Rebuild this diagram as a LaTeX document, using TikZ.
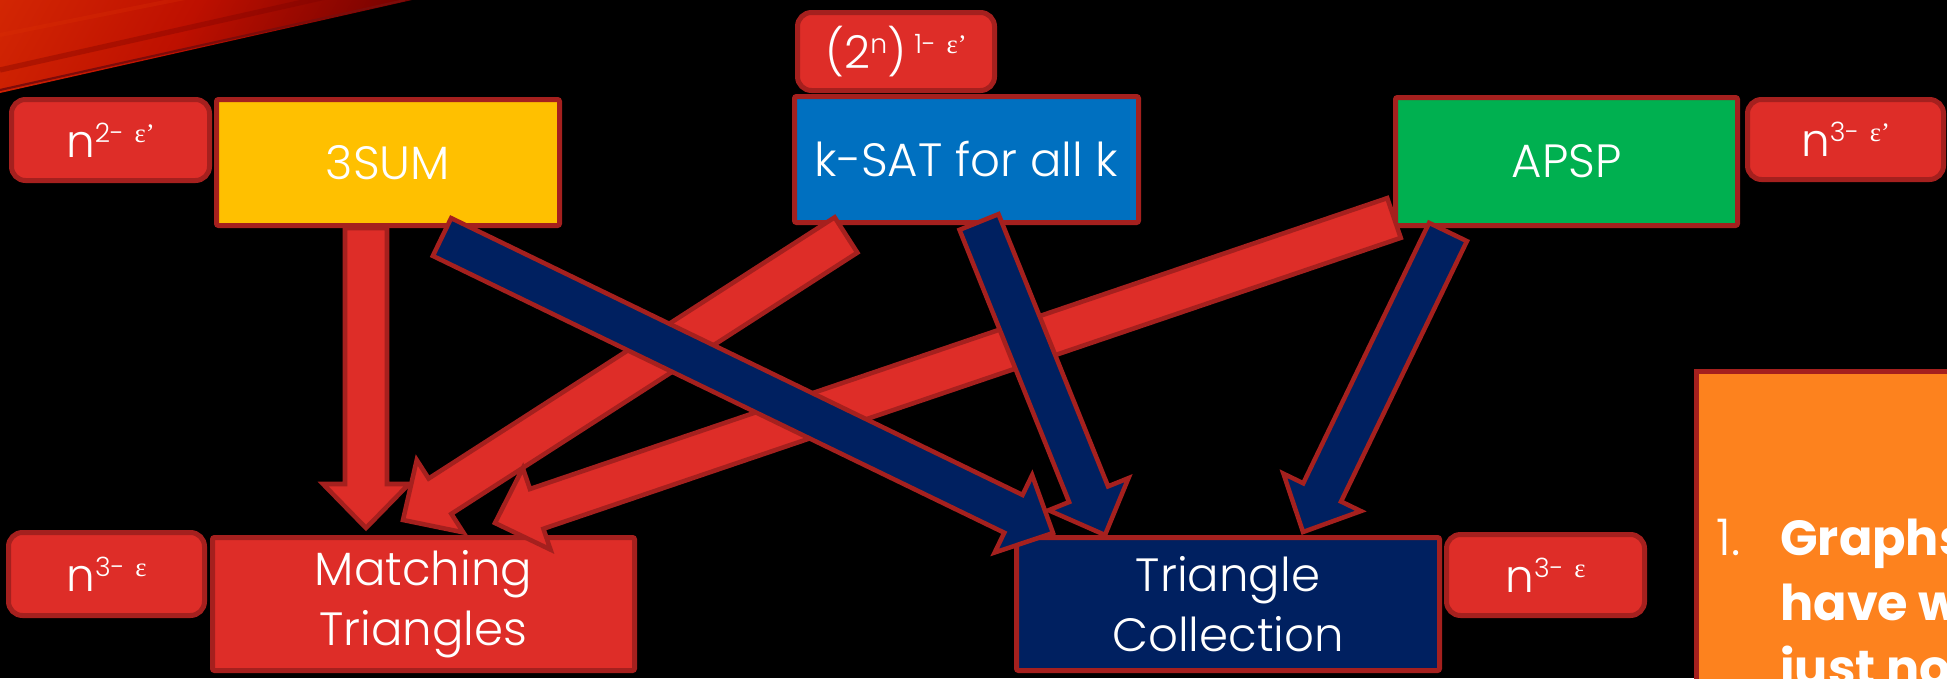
\documentclass[tikz,border=0pt]{standalone}
\usepackage{fontspec}
\setmainfont{Poppins}[UprightFont={* Light}, BoldFont={* Bold}]
\newfontfamily\grk{Liberation Serif}
\usetikzlibrary{calc}

\definecolor{cred}{RGB}{222,45,40}
\definecolor{cedge}{RGB}{165,32,30}
\definecolor{cyellow}{RGB}{255,192,0}
\definecolor{cblue}{RGB}{0,112,192}
\definecolor{cgreen}{RGB}{0,176,80}
\definecolor{cnavy}{RGB}{0,32,96}
\definecolor{corange}{RGB}{253,130,30}
\definecolor{sw1}{RGB}{222,50,5}
\definecolor{sw2}{RGB}{190,16,0}
\definecolor{sw3}{RGB}{120,2,0}
\definecolor{swline}{RGB}{125,12,10}

\pgfdeclarehorizontalshading{swoosh}{100bp}{color(0bp)=(sw1); color(45bp)=(sw2); color(75bp)=(sw3); color(100bp)=(black)}

% exponent such as 2- eps'
\newcommand\pexp[2]{\raisebox{11pt}{\fontsize{20}{20}\selectfont #1\hspace{8pt}{\grk #2}}}

% block arrow from tail #2 to tip #3
\newcommand\blockarrow[3]{%
  \coordinate (ba-h) at ($(#3)!33pt!(#2)$);
  \draw[#1] ($(#2)!15.75pt!90:(#3)$) -- ($(ba-h)!15.75pt!90:(#3)$)
    -- ($(ba-h)!32.25pt!90:(#3)$) -- (#3)
    -- ($(ba-h)!32.25pt!-90:(#3)$) -- ($(ba-h)!15.75pt!-90:(#3)$)
    -- ($(#2)!15.75pt!-90:(#3)$) -- cycle;}

\tikzset{
  box/.style={draw=cedge, line width=3.75pt, inner sep=0pt, text=white,
    align=center, rounded corners=1.5pt,
    font=\fontsize{35}{45}\selectfont},
  badge/.style={box, fill=cred, rounded corners=10.5pt,
    font=\fontsize{34}{40}\selectfont},
  redarrow/.style={draw=cedge, fill=cred, line width=3.4pt},
  navyarrow/.style={draw=cedge, fill=cnavy, line width=3.4pt},
  notetext/.style={anchor=base west, inner sep=0pt, text=white,
    font=\fontsize{38}{48}\selectfont},
  notebold/.style={notetext, font=\fontsize{37}{48}\selectfont\bfseries}
}

\begin{document}
\begin{tikzpicture}[x=0.75pt,y=-0.75pt]
\useasboundingbox (0,0) rectangle (1947,678);
\clip (0,0) rectangle (1947,678);
\fill[black] (0,0) rectangle (1947,678);

% swoosh in the top left corner
\begin{scope}
  \clip (0,0) -- (412,0) -- (0,93) -- cycle;
  \shade[shading=swoosh, shading angle=-30] (0,0) rectangle (412,93);
  \draw[sw1, opacity=0.25, line width=3pt] (0,35) -- (250,-15);
  \draw[sw3, opacity=0.35, line width=4pt] (0,70) -- (330,-4);
\end{scope}
\draw[swline, line width=1.6pt] (0,90) -- (405,0);

% problem boxes and their time bounds
\node[badge, minimum width=148.5pt, minimum height=60.75pt] (b2) at (110.5,140) {n\pexp{2-}{ε’}};
\node[box, fill=cyellow, minimum width=257.25pt, minimum height=94.5pt] (sum) at (388,162.5) {3SUM};
\node[badge, minimum width=147.75pt, minimum height=58.5pt] (p2n) at (896,51.5)
  {(2\raisebox{11pt}{\fontsize{20}{20}\selectfont n})\hspace{6pt}\pexp{1-}{ε’}};
\node[box, fill=cblue, minimum width=258pt, minimum height=94.5pt] (ksat) at (966.5,159.5) {k-SAT for all k};
\node[box, fill=cgreen, minimum width=256.5pt, minimum height=96pt] (apsp) at (1566.5,161.5) {APSP};
\node[badge, minimum width=147pt, minimum height=60pt] (b3p) at (1845.5,139.5) {n\pexp{3-}{ε’}};

\node[badge, minimum width=147pt, minimum height=62.25pt] (b3l) at (106.5,574) {n\pexp{3-}{ε}};
\node[box, fill=cred, minimum width=316.5pt, minimum height=99.75pt] (match) at (423.5,604) {Matching\\Triangles};
\node[box, fill=cnavy, minimum width=317.25pt, minimum height=99.75pt] (tc) at (1228,604) {Triangle\\Collection};
\node[badge, minimum width=148.5pt, minimum height=60.75pt] (b3r) at (1545.5,575) {n\pexp{3-}{ε}};

% note box on the right
\draw[draw=cedge, fill=corange, line width=3.75pt] (1696.5,371.5) rectangle (2010,760);
\node[notetext] (num) at (1716,555) {1.};
\node[notebold] (l1) at (1780,555) {Graphs};
\node[notebold] (l2) at (1780,620) {have w};
\node[notebold] (l3) at (1780,685) {just no};

% arrow ends
\coordinate (r1t) at (366,228);  \coordinate (r1h) at (366,528);
\coordinate (r2t) at (846,235);  \coordinate (r2h) at (403,520);
\coordinate (r3t) at (1394,218); \coordinate (r3h) at (495,523);
\coordinate (n1t) at (442,237);  \coordinate (n1h) at (1053,533);
\coordinate (n2t) at (979,222);  \coordinate (n2h) at (1105,535);
\coordinate (n3t) at (1448,232); \coordinate (n3h) at (1303,532);

% reductions into Matching Triangles
\blockarrow{redarrow}{r1t}{r1h}
\blockarrow{redarrow}{r2t}{r2h}
\blockarrow{redarrow}{r3t}{r3h}

% reductions into Triangle Collection
\blockarrow{navyarrow}{n3t}{n3h}
\blockarrow{navyarrow}{n2t}{n2h}
\blockarrow{navyarrow}{n1t}{n1h}
\end{tikzpicture}
\end{document}
